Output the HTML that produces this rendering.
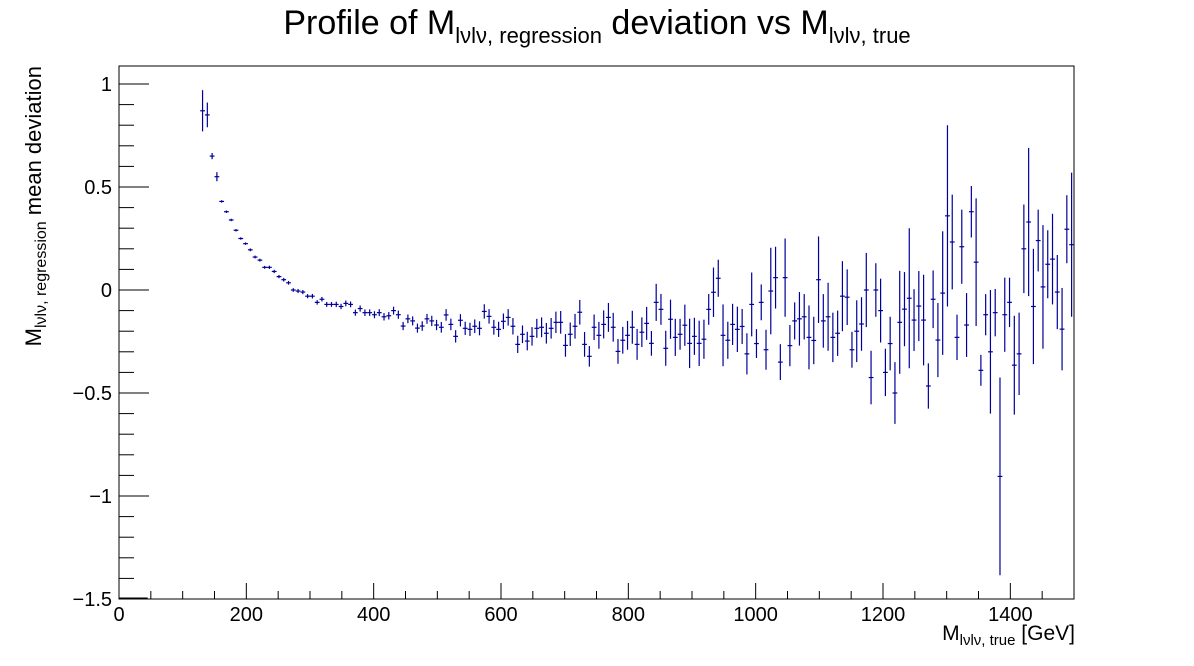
<!DOCTYPE html>
<html><head><meta charset="utf-8"><style>
html,body{margin:0;padding:0;background:#fff;}
svg{display:block;font-family:"Liberation Sans",sans-serif;}
</style></head><body>
<svg id="chart" width="1194" height="666" viewBox="0 0 1194 666">
<rect x="0" y="0" width="1194" height="666" fill="#fff"/>
<text x="597" y="34" font-size="34" text-anchor="middle" fill="#000">Profile of M<tspan font-size="22" dy="9">lνlν, regression</tspan><tspan dy="-9"> deviation vs M</tspan><tspan font-size="22" dy="9">lνlν, true</tspan></text>
<rect x="119" y="66" width="955" height="533" fill="none" stroke="#000" stroke-width="1"/>
<g id="axes"></g>
<g id="marks"></g>
<text x="1075" y="640" font-size="21" text-anchor="end">M<tspan font-size="15" dy="5">lνlν, true</tspan><tspan dy="-5"> [GeV]</tspan></text>
<text transform="translate(41,66) rotate(-90)" font-size="22" text-anchor="end">M<tspan font-size="16" dy="5">lνlν, regression</tspan><tspan dy="-5"> mean deviation</tspan></text>
</svg>
<script>
const binStart = 131.25;
const binWidth = 7.5;
const means = [
0.87,0.85,0.65,0.55,0.43,0.38,0.34,0.29,0.25,0.225,0.195,0.16,0.145,0.11,0.11,0.09,0.065,0.05,0.035,0.0,
-0.005,-0.01,-0.03,-0.03,-0.06,-0.045,-0.07,-0.07,-0.07,-0.08,-0.065,-0.07,-0.11,-0.09,-0.11,-0.11,-0.12,-0.11,-0.13,-0.125,
-0.1,-0.12,-0.175,-0.14,-0.15,-0.185,-0.175,-0.14,-0.15,-0.17,
-0.181,-0.121,-0.167,-0.225,-0.147,-0.186,-0.191,-0.176,-0.186,-0.104,-0.128,-0.181,-0.191,-0.152,-0.133,-0.176,-0.264,-0.215,-0.248,-0.225,
-0.186,-0.181,-0.21,-0.186,-0.157,-0.157,-0.269,-0.215,-0.176,-0.108,-0.264,-0.322,-0.181,-0.22,-0.167,-0.133,-0.181,-0.298,-0.244,-0.22,
-0.181,-0.264,-0.205,-0.162,-0.259,-0.06,-0.094,-0.283,-0.142,-0.23,-0.215,-0.171,-0.259,-0.225,-0.259,-0.239,-0.094,-0.011,0.057,-0.22,
-0.244,-0.167,-0.191,
-0.177,-0.31,-0.07,-0.26,-0.06,-0.29,-0.005,0.06,-0.35,0.06,-0.27,-0.15,-0.14,-0.13,-0.23,-0.245,0.05,-0.15,-0.13,-0.23,
-0.21,-0.03,-0.035,-0.29,-0.2,-0.165,0.0,-0.425,0.0,-0.1,-0.4,-0.26,-0.5,-0.157,
-0.093,-0.04,-0.146,-0.078,-0.146,-0.466,-0.045,-0.243,-0.015,0.36,0.233,-0.23,0.21,-0.17,0.38,0.135,-0.39,-0.12,-0.3,-0.11,
-0.905,-0.12,-0.06,-0.365,-0.31,0.2,0.33,-0.08,0.24,0.015,0.125,0.15,-0.01,-0.19,0.295,0.22
];
const errors = [
0.1,0.06,0.015,0.022,0.006,0.006,0.006,0.006,0.006,0.006,0.007,0.007,0.007,0.007,0.008,0.008,0.008,0.009,0.009,0.009,
0.01,0.01,0.01,0.011,0.011,0.011,0.012,0.012,0.013,0.013,0.014,0.014,0.015,0.015,0.016,0.016,0.017,0.017,0.018,0.018,
0.019,0.02,0.02,0.021,0.022,0.022,0.023,0.024,0.025,0.025,
0.026,0.028,0.028,0.03,0.03,0.032,0.032,0.033,0.034,0.035,0.035,0.036,0.037,0.038,0.04,0.04,0.042,0.043,0.045,0.045,
0.046,0.048,0.05,0.05,0.052,0.055,0.055,0.057,0.06,0.06,0.06,0.05,0.062,0.065,0.068,0.07,0.07,0.06,0.065,0.07,
0.08,0.075,0.072,0.08,0.06,0.09,0.075,0.085,0.095,0.09,0.075,0.1,0.12,0.09,0.11,0.095,0.075,0.12,0.09,0.15,
0.09,0.1,0.11,
0.085,0.1,0.155,0.07,0.087,0.097,0.21,0.15,0.087,0.19,0.1,0.09,0.13,0.11,0.155,0.115,0.21,0.13,0.165,0.12,
0.11,0.17,0.135,0.087,0.15,0.13,0.18,0.13,0.13,0.155,0.115,0.13,0.15,0.25,
0.18,0.34,0.15,0.17,0.22,0.11,0.14,0.18,0.3,0.44,0.23,0.11,0.18,0.155,0.125,0.31,0.075,0.1,0.3,0.115,
0.48,0.18,0.12,0.24,0.2,0.215,0.36,0.28,0.15,0.3,0.165,0.22,0.18,0.2,0.165,0.35
];
const xTickLabels = ["0","200","400","600","800","1000","1200","1400"];
const xTickValues = [0,200,400,600,800,1000,1200,1400];
const yTickLabels = ["1","0.5","0","\u22120.5","\u22121","\u22121.5"];
const yTickValues = [1,0.5,0,-0.5,-1,-1.5];

const X0=119, X1=1074, XMIN=0, XMAX=1500;
const Y0=599, YMIN=-1.5, YSCALE=206;
function xs(v){return X0+(v-XMIN)*(X1-X0)/(XMAX-XMIN);}
function ys(v){return 290-v*YSCALE;}
const NS="http://www.w3.org/2000/svg";
function mk(tag,attrs,parent){const e=document.createElementNS(NS,tag);for(const k in attrs)e.setAttribute(k,attrs[k]);parent.appendChild(e);return e;}
const axes=document.getElementById('axes');
const marks=document.getElementById('marks');

for(let v=0;v<=1500;v+=50){
  const major=v%200===0;
  const t=mk('line',{x1:xs(v),x2:xs(v),y1:Y0,y2:Y0-(major?16:8),stroke:'#000','stroke-width':1},axes);
  
  
}
xTickValues.forEach((v,i)=>{
  const t=mk('text',{x:xs(v),y:621,'font-size':20,'text-anchor':'middle'},axes);
  t.textContent=xTickLabels[i];
  
  
});
for(let k=0;k<=25;k++){
  const v=-1.5+k*0.1;
  const major=(k%5===0);
  const t=mk('line',{x1:X0,x2:X0+(major?30:15),y1:ys(v),y2:ys(v),stroke:'#000','stroke-width':1},axes);
  
  
}
yTickValues.forEach((v,i)=>{
  const t=mk('text',{x:112,y:ys(v)+7,'font-size':20,'text-anchor':'end'},axes);
  t.textContent=yTickLabels[i];
  
  
});
const eb=mk('line',{x1:xs(0),x2:xs(45),y1:Y0-0.5,y2:Y0-0.5,stroke:'#000','stroke-width':2},axes);



means.forEach((m,i)=>{
  const c=binStart+i*binWidth;
  const g=mk('g',{},marks);
  
  
  const e=errors[i];
  let top=ys(m+e), bot=ys(m-e);
  if(bot>Y0)bot=Y0; if(top<66)top=66;
  mk('line',{x1:xs(c),x2:xs(c),y1:top,y2:bot,stroke:'#00009a','stroke-width':1.2},g);
  mk('line',{x1:xs(c-binWidth/2),x2:xs(c+binWidth/2),y1:ys(m),y2:ys(m),stroke:'#00009a','stroke-width':1.2},g);
});
</script>
</body></html>
